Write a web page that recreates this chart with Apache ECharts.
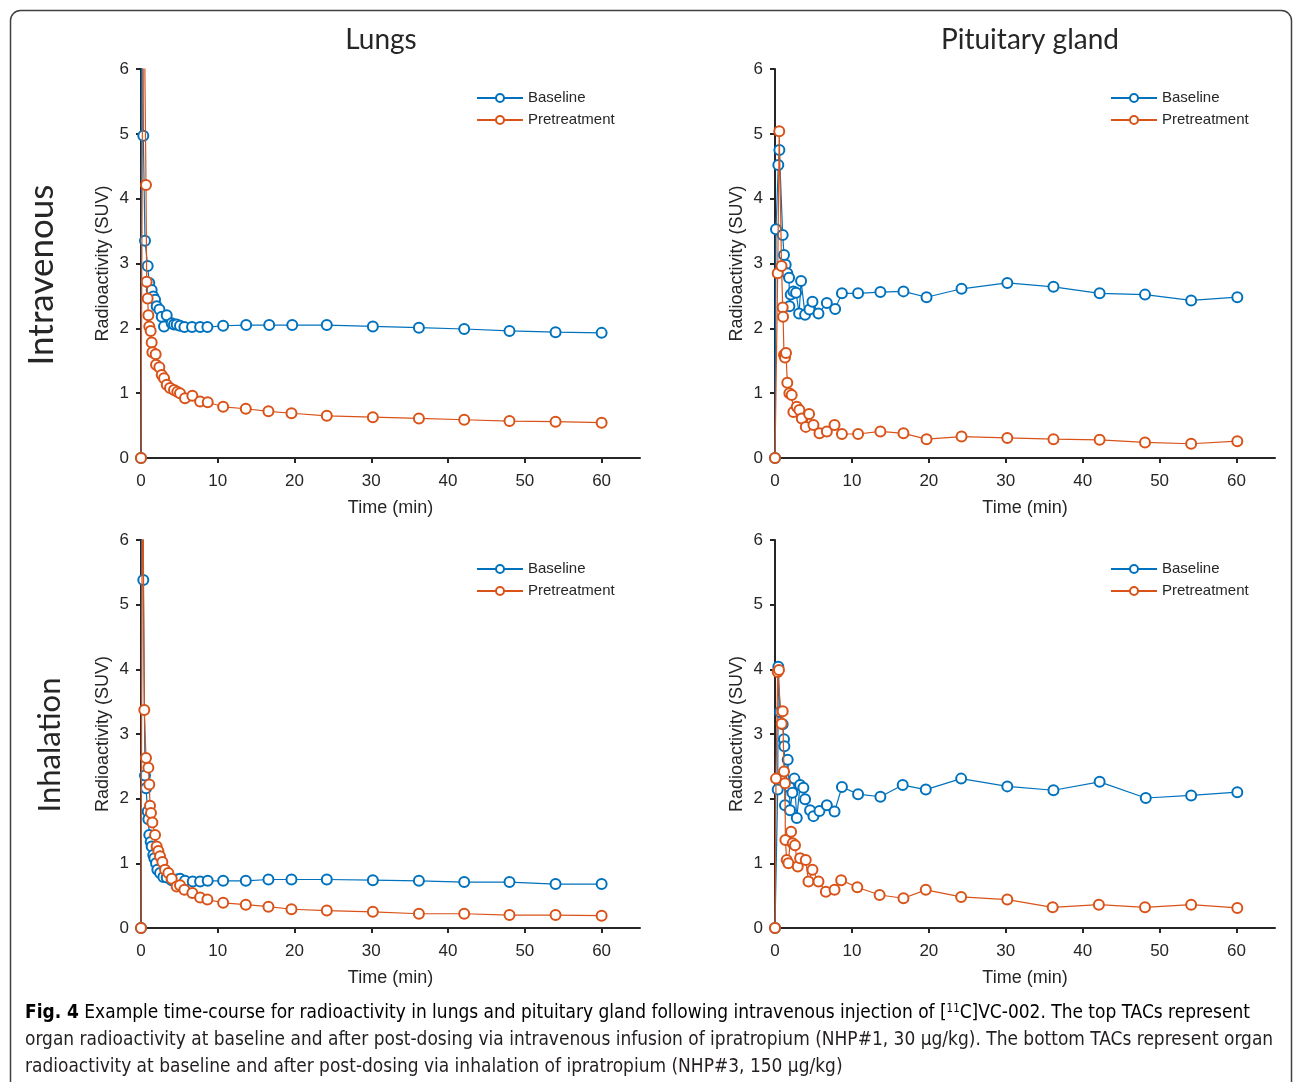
<!DOCTYPE html>
<html><head><meta charset="utf-8">
<script src="https://cdn.jsdelivr.net/npm/echarts@6/dist/echarts.min.js"></script>
<style>html,body{margin:0;padding:0;background:#fff}#c{width:1293px;height:1082px}</style>
</head><body><div id="c"></div>
<script>
// ---- data (time in min, radioactivity in SUV) ----
const panelTitles = ['Lungs', 'Pituitary gland'];
const rowLabels = ['Intravenous', 'Inhalation'];
const seriesNames = ['Baseline', 'Pretreatment'];
const xTicks = [0, 10, 20, 30, 40, 50, 60];
const yTicks = [0, 1, 2, 3, 4, 5, 6];

const lungIvBaseT = [0, 0.15, 0.3, 0.52, 0.87, 1.08, 1.39, 1.6, 1.83, 2.04, 2.4, 2.7, 3.0, 3.35, 4.0, 4.3, 4.65, 5.08, 5.65, 6.65, 7.7, 8.65, 10.7, 13.7, 16.7, 19.7, 24.2, 30.2, 36.2, 42.1, 48.0, 54.0, 60.0];
const lungIvBaseV = [0, 9.5, 4.97, 3.35, 2.96, 2.7, 2.59, 2.49, 2.44, 2.34, 2.29, 2.18, 2.03, 2.2, 2.08, 2.06, 2.06, 2.04, 2.02, 2.02, 2.02, 2.02, 2.04, 2.05, 2.05, 2.05, 2.05, 2.03, 2.01, 1.99, 1.96, 1.94, 1.93];
const lungIvPreT = [0, 0.3, 0.65, 0.74, 0.87, 0.96, 1.08, 1.26, 1.39, 1.48, 1.91, 1.96, 2.39, 2.7, 3.0, 3.35, 3.78, 4.3, 4.73, 5.08, 5.73, 6.69, 7.7, 8.69, 10.7, 13.65, 16.6, 19.6, 24.2, 30.2, 36.2, 42.1, 48.0, 54.0, 60.0];
const lungIvPreV = [0, 8.5, 4.21, 2.72, 2.46, 2.2, 2.03, 1.96, 1.78, 1.63, 1.6, 1.44, 1.4, 1.28, 1.23, 1.13, 1.08, 1.05, 1.02, 1.0, 0.92, 0.96, 0.87, 0.86, 0.79, 0.76, 0.72, 0.69, 0.65, 0.63, 0.61, 0.59, 0.57, 0.56, 0.545];

const pitIvBaseT = [0, 0.13, 0.43, 0.57, 1.0, 1.17, 1.39, 1.6, 1.83, 1.87, 2.04, 2.39, 2.74, 3.13, 3.39, 3.91, 4.48, 4.87, 5.65, 6.74, 7.82, 8.7, 10.8, 13.7, 16.7, 19.7, 24.25, 30.2, 36.2, 42.2, 48.1, 54.1, 60.1];
const pitIvBaseV = [0, 3.53, 4.52, 4.75, 3.44, 3.13, 2.98, 2.85, 2.78, 2.34, 2.52, 2.57, 2.55, 2.23, 2.73, 2.21, 2.29, 2.41, 2.23, 2.39, 2.3, 2.54, 2.54, 2.56, 2.57, 2.48, 2.61, 2.7, 2.64, 2.54, 2.52, 2.43, 2.48];
const pitIvPreT = [0, 0.35, 0.55, 0.85, 1.0, 1.05, 1.17, 1.3, 1.43, 1.6, 1.87, 2.17, 2.39, 2.83, 3.17, 3.48, 4.0, 4.43, 5.0, 5.78, 6.74, 7.74, 8.7, 10.8, 13.7, 16.7, 19.7, 24.25, 30.2, 36.2, 42.2, 48.1, 54.1, 60.1];
const pitIvPreV = [0, 2.85, 5.04, 2.96, 2.32, 2.18, 1.59, 1.55, 1.62, 1.16, 1.0, 0.97, 0.71, 0.79, 0.74, 0.61, 0.48, 0.68, 0.51, 0.38, 0.41, 0.51, 0.37, 0.37, 0.41, 0.38, 0.29, 0.33, 0.31, 0.29, 0.28, 0.24, 0.22, 0.26];

const lungInhBaseT = [0, 0.15, 0.3, 0.52, 0.65, 0.87, 0.96, 1.08, 1.26, 1.39, 1.6, 1.74, 1.96, 2.13, 2.48, 2.91, 3.35, 4.0, 4.65, 5.08, 5.73, 6.74, 7.7, 8.69, 10.7, 13.65, 16.6, 19.6, 24.2, 30.2, 36.2, 42.1, 48.0, 54.0, 60.0];
const lungInhBaseV = [0, 9.0, 5.38, 2.36, 2.16, 1.8, 1.68, 1.44, 1.33, 1.26, 1.13, 1.08, 1.0, 0.9, 0.85, 0.79, 0.78, 0.74, 0.75, 0.76, 0.73, 0.72, 0.72, 0.73, 0.73, 0.73, 0.75, 0.75, 0.75, 0.74, 0.73, 0.71, 0.71, 0.68, 0.68];
const lungInhPreT = [0, 0.2, 0.43, 0.65, 0.96, 1.08, 1.17, 1.3, 1.48, 1.83, 2.04, 2.26, 2.48, 2.78, 3.13, 3.56, 4.0, 4.65, 5.08, 5.65, 6.69, 7.7, 8.65, 10.7, 13.65, 16.6, 19.6, 24.2, 30.2, 36.2, 42.1, 48.0, 54.0, 60.0];
const lungInhPreV = [0, 8.0, 3.37, 2.63, 2.48, 2.22, 1.89, 1.78, 1.63, 1.44, 1.26, 1.19, 1.11, 1.02, 0.9, 0.85, 0.76, 0.64, 0.66, 0.59, 0.54, 0.47, 0.44, 0.39, 0.36, 0.33, 0.29, 0.27, 0.25, 0.22, 0.22, 0.2, 0.2, 0.19];

const pitInhBaseT = [0, 0.35, 0.43, 0.65, 1.0, 1.17, 1.22, 1.3, 1.65, 1.87, 1.95, 2.26, 2.52, 2.83, 3.26, 3.69, 3.91, 4.56, 5.0, 5.78, 6.74, 7.74, 8.7, 10.8, 13.7, 16.6, 19.6, 24.2, 30.2, 36.2, 42.2, 48.2, 54.1, 60.1];
const pitInhBaseV = [0, 2.14, 4.04, 3.34, 3.15, 2.92, 2.81, 1.9, 2.6, 2.18, 1.82, 2.09, 2.31, 1.7, 2.21, 2.17, 1.99, 1.82, 1.73, 1.81, 1.9, 1.8, 2.18, 2.07, 2.03, 2.21, 2.14, 2.31, 2.19, 2.13, 2.26, 2.01, 2.05, 2.1];
const pitInhPreT = [0, 0.13, 0.35, 0.52, 0.87, 1.0, 1.17, 1.3, 1.35, 1.52, 1.74, 2.09, 2.3, 2.6, 2.96, 3.26, 4.0, 4.35, 4.87, 5.65, 6.61, 7.74, 8.6, 10.7, 13.6, 16.7, 19.6, 24.2, 30.2, 36.1, 42.1, 48.1, 54.1, 60.1];
const pitInhPreV = [0, 2.31, 3.96, 3.99, 3.16, 3.35, 2.42, 2.24, 1.36, 1.05, 1.0, 1.49, 1.31, 1.28, 0.95, 1.08, 1.05, 0.72, 0.9, 0.72, 0.56, 0.59, 0.74, 0.63, 0.51, 0.46, 0.59, 0.48, 0.44, 0.32, 0.36, 0.32, 0.36, 0.31];

const captionLines = [
  ['Fig. 4', ' Example time-course for radioactivity in lungs and pituitary gland following intravenous injection of [', '11', 'C]VC-002. The top TACs represent'],
  'organ radioactivity at baseline and after post-dosing via intravenous infusion of ipratropium (NHP#1, 30 μg/kg). The bottom TACs represent organ',
  'radioactivity at baseline and after post-dosing via inhalation of ipratropium (NHP#3, 150 μg/kg)'
];

// ---- chart ----
const BLUE = '#0072BD', ORANGE = '#D95319', INK = '#262626';
const zip = (t, v) => t.map((x, i) => [x, v[i]]);
const panels = [
  {base: zip(lungIvBaseT, lungIvBaseV), pre: zip(lungIvPreT, lungIvPreV)},
  {base: zip(pitIvBaseT, pitIvBaseV), pre: zip(pitIvPreT, pitIvPreV)},
  {base: zip(lungInhBaseT, lungInhBaseV), pre: zip(lungInhPreT, lungInhPreV)},
  {base: zip(pitInhBaseT, pitInhBaseV), pre: zip(pitInhPreT, pitInhPreV)}
];
const gridPos = [
  {left: 141, top: 69, width: 499, height: 389},
  {left: 775, top: 69, width: 500, height: 389},
  {left: 141, top: 540, width: 499, height: 388},
  {left: 775, top: 540, width: 500, height: 388}
];
const FONT = '"Liberation Sans", Arial, sans-serif';
const grids = [], xAxes = [], yAxes = [], series = [], legends = [];
gridPos.forEach((g, i) => {
  grids.push(Object.assign({containLabel: false}, g));
  xAxes.push({
    type: 'value', gridIndex: i, min: 0, max: 65, interval: 10,
    name: 'Time (min)', nameLocation: 'middle', nameGap: 41,
    nameTextStyle: {fontSize: 18, color: INK, fontFamily: FONT},
    axisLine: {show: true, lineStyle: {color: INK, width: 2}},
    axisTick: {show: true, length: 5, lineStyle: {color: INK, width: 2}, customValues: xTicks},
    axisLabel: {fontSize: 17, color: INK, fontFamily: FONT, margin: 15, customValues: xTicks},
    splitLine: {show: false}
  });
  yAxes.push({
    type: 'value', gridIndex: i, min: 0, max: 6, interval: 1,
    name: 'Radioactivity (SUV)', nameLocation: 'middle', nameGap: 29,
    nameTextStyle: {fontSize: 18, color: INK, fontFamily: FONT},
    axisLine: {show: true, lineStyle: {color: INK, width: 2}},
    axisTick: {show: true, length: 5, lineStyle: {color: INK, width: 2}, customValues: yTicks},
    axisLabel: {fontSize: 17, color: INK, fontFamily: FONT, margin: 12, customValues: yTicks},
    splitLine: {show: false}
  });
  const p = panels[i];
  [[seriesNames[0], p.base, BLUE], [seriesNames[1], p.pre, ORANGE]].forEach(([name, data, col]) => {
    series.push({
      type: 'line', name, xAxisIndex: i, yAxisIndex: i, data, clip: true,
      symbol: 'emptyCircle', symbolSize: 10, showAllSymbol: true,
      lineStyle: {color: col, width: 1.2}, itemStyle: {color: col, borderColor: col, borderWidth: 1.3},
      emphasis: {disabled: true}, z: name === 'Baseline' ? 2 : 3
    });
  });
  legends.push({
    orient: 'vertical', left: g.left + 335, top: g.top + 21, padding: 0,
    itemWidth: 46, itemHeight: 10, itemGap: 6,
    data: seriesNames, selectedMode: false,
    textStyle: {fontSize: 15, color: INK, fontFamily: FONT, lineHeight: 16}
  });
});

const TF = 'Lato, "Open Sans", sans-serif';
const graphics = [
  {type: 'rect', shape: {x: 10.5, y: 10.5, width: 1281, height: 1100, r: 10}, style: {fill: 'none', stroke: '#404040', lineWidth: 1.5}, silent: true},
  {type: 'text', x: 381, y: 40, style: {text: panelTitles[0], font: '28px ' + TF, fill: INK, textAlign: 'center', textVerticalAlign: 'middle'}},
  {type: 'text', x: 1030, y: 40, style: {text: panelTitles[1], font: '28px ' + TF, fill: INK, textAlign: 'center', textVerticalAlign: 'middle'}},
  {type: 'text', x: 42, y: 275, rotation: Math.PI / 2, style: {text: rowLabels[0], font: '35px ' + TF, fill: INK, textAlign: 'center', textVerticalAlign: 'middle'}},
  {type: 'text', x: 50, y: 745, rotation: Math.PI / 2, style: {text: rowLabels[1], font: '31px ' + TF, fill: INK, textAlign: 'center', textVerticalAlign: 'middle'}}
];

const CAPF = '"DejaVu Sans Condensed", "Liberation Sans", sans-serif';
const CAPSCALE = 0.947;
graphics.push({
  type: 'text', x: 25, y: 1013, scaleX: CAPSCALE,
  style: {
    text: '{b|' + captionLines[0][0] + '}{n|' + captionLines[0][1] + '}{s|' + captionLines[0][2] + '}{n|' + captionLines[0][3] + '}',
    textVerticalAlign: 'middle',
    rich: {
      b: {fontSize: 20, fontWeight: 'bold', fontFamily: CAPF, color: '#231f20'},
      n: {fontSize: 20, fontFamily: CAPF, color: '#231f20'},
      s: {fontSize: 12, fontFamily: CAPF, color: '#231f20', verticalAlign: 'top'}
    }
  }
});
graphics.push({type: 'text', x: 25, y: 1040, scaleX: CAPSCALE, style: {text: captionLines[1], font: '20px ' + CAPF, fill: '#231f20', textVerticalAlign: 'middle'}});
graphics.push({type: 'text', x: 25, y: 1067, scaleX: CAPSCALE, style: {text: captionLines[2], font: '20px ' + CAPF, fill: '#231f20', textVerticalAlign: 'middle'}});

const chart = echarts.init(document.getElementById('c'), null, {renderer: 'canvas'});
chart.setOption({
  animation: false,
  backgroundColor: '#ffffff',
  grid: grids, xAxis: xAxes, yAxis: yAxes, series, legend: legends,
  graphic: graphics
});
</script></body></html>
